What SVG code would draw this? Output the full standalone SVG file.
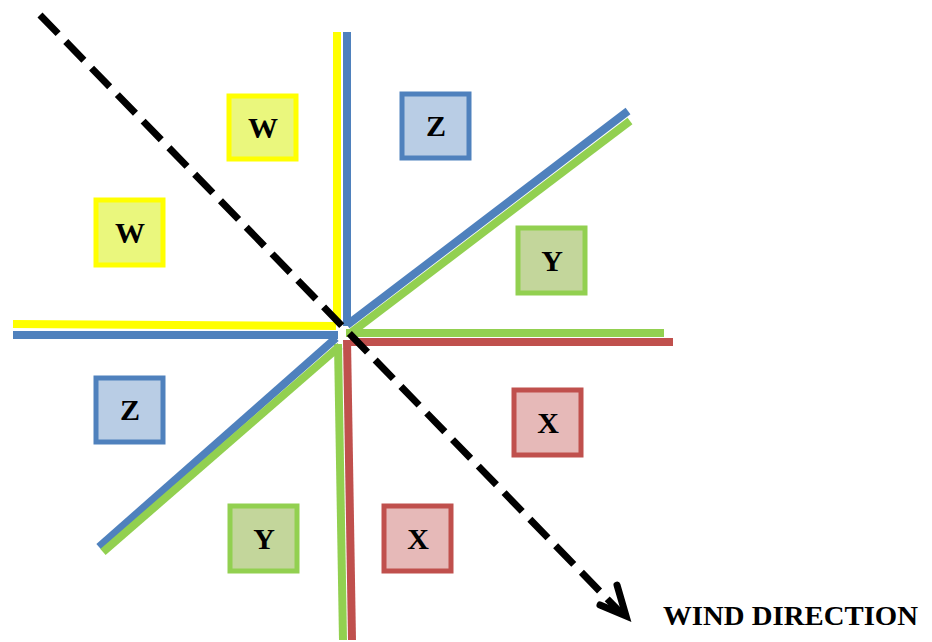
<svg xmlns="http://www.w3.org/2000/svg" width="932" height="642" viewBox="0 0 932 642">
<style>
.ln{stroke-width:8;fill:none}
.yl{stroke:#ffff00}.bl{stroke:#4f81bd}.gr{stroke:#92d050}.rd{stroke:#c0504d}
.box{stroke-width:5}
.bw{fill:#eaf77d;stroke:#ffff00}.bz{fill:#b9cde5;stroke:#4f81bd}.by{fill:#c3d69b;stroke:#92d050}.bx{fill:#e6b9b8;stroke:#c0504d}
.t{font-family:"Liberation Serif",serif;font-weight:bold;font-size:30px;text-anchor:middle;fill:#000}
</style>
<rect width="932" height="642" fill="#fff"/>
<g id="connectors">
<line class="ln yl" x1="337" y1="32" x2="337" y2="325"/>
<line class="ln bl" x1="347" y1="32" x2="347" y2="326"/>
<line class="ln yl" x1="13" y1="324" x2="336" y2="326"/>
<line class="ln bl" x1="13" y1="335" x2="338" y2="335"/>
<line class="ln gr" x1="346" y1="333" x2="664" y2="333"/>
<line class="ln rd" x1="350" y1="342" x2="673" y2="342"/>
<line class="ln gr" x1="338" y1="344" x2="343" y2="640"/>
<line class="ln rd" x1="347" y1="340" x2="352" y2="640"/>
<line class="ln bl" x1="347" y1="325" x2="628" y2="111"/>
<line class="ln gr" x1="352" y1="332" x2="630" y2="121"/>
<line class="ln bl" x1="336" y1="338" x2="99" y2="547"/>
<line class="ln gr" x1="340" y1="346" x2="103" y2="552"/>
<line x1="40" y1="15" x2="620" y2="612" stroke="#000" stroke-width="7" stroke-dasharray="26 11"/>
<polyline points="600,605 626,616 617,585" fill="none" stroke="#000" stroke-width="7" stroke-linecap="round" stroke-linejoin="miter"/>
</g>
<g id="w1"><rect class="box bw" x="229" y="96" width="67" height="63"/><text class="t" x="263" y="138">W</text></g>
<g id="w2"><rect class="box bw" x="96" y="200" width="67" height="65"/><text class="t" x="130" y="243">W</text></g>
<g id="z1"><rect class="box bz" x="402" y="94" width="67" height="64"/><text class="t" x="436" y="136">Z</text></g>
<g id="y1"><rect class="box by" x="518" y="228" width="67" height="65"/><text class="t" x="552" y="271">Y</text></g>
<g id="z2"><rect class="box bz" x="96" y="378" width="67" height="64"/><text class="t" x="130" y="420">Z</text></g>
<g id="x1"><rect class="box bx" x="514" y="390" width="67" height="65"/><text class="t" x="548" y="433">X</text></g>
<g id="y2"><rect class="box by" x="230" y="506" width="67" height="65"/><text class="t" x="264" y="549">Y</text></g>
<g id="x2"><rect class="box bx" x="384" y="506" width="67" height="65"/><text class="t" x="418" y="549">X</text></g>
<g id="label"><text x="663" y="625" font-family="Liberation Serif, serif" font-weight="bold" font-size="27" textLength="255" lengthAdjust="spacingAndGlyphs">WIND DIRECTION</text></g>
</svg>
